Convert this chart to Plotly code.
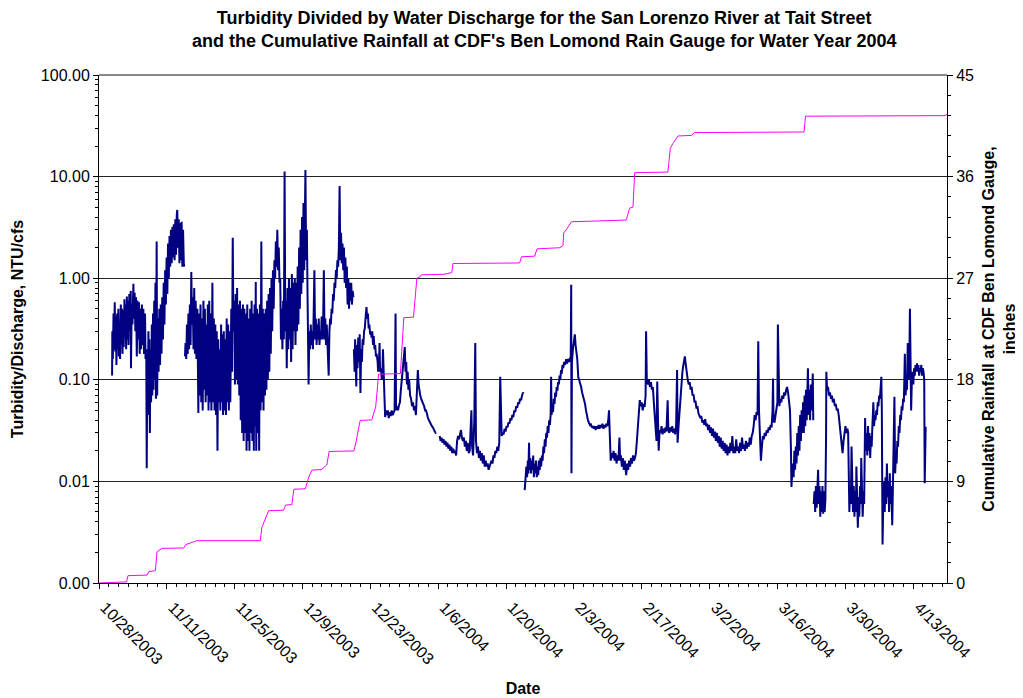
import pandas as pd
import plotly.graph_objects as go

START = pd.Timestamp("2003-10-28")

# Cumulative rainfall, CDF Ben Lomond gauge (days since 10/28/2003, inches)
rain_day = [0.0, 4.07, 5.7, 5.98, 9.9, 10.26, 11.64, 11.97, 13.0, 17.48, 17.9, 20.2,
            33.3, 33.6, 35.0, 38.1, 38.5, 39.8, 40.2, 42.6, 43.3, 43.95, 45.9, 47.0,
            47.5, 52.6, 53.0, 53.9, 56.3, 57.1, 57.7, 62.2, 62.9, 64.9, 65.6, 66.2,
            66.5, 71.3, 72.8, 73.05, 86.8, 87.2, 89.9, 90.4, 95.1, 95.75, 95.9, 96.45,
            97.5, 108.8, 109.5, 110.2, 110.55, 117.4, 117.9, 118.45, 119.5, 122.25,
            122.9, 145.5, 145.8, 174.6, 175.0]
rain_in = [0.0, 0.05, 0.1, 0.65, 0.7, 1.0, 1.1, 2.77, 3.07, 3.1, 3.4, 3.75,
           3.75, 4.9, 6.4, 6.45, 6.9, 6.95, 8.3, 8.35, 9.4, 10.0, 10.05, 10.45,
           11.65, 11.7, 12.4, 14.4, 14.45, 15.6, 18.5, 18.55, 23.5, 23.55, 27.0, 27.1,
           27.3, 27.35, 27.5, 28.3, 28.35, 28.9, 28.95, 29.6, 29.7, 29.9, 31.0, 31.3,
           32.0, 32.15, 33.2, 33.3, 36.35, 36.4, 38.5, 38.95, 39.6, 39.65,
           39.9, 39.95, 41.35, 41.4, 41.5]

# Turbidity / discharge (NTU/cfs), segments separated by data gaps
turb_segments = [
    [(2.70, 0.11), (2.75, 0.30), (2.85, 0.16), (3.00, 0.45), (3.10, 0.20), (3.25, 0.58),
     (3.35, 0.19), (3.50, 0.42), (3.60, 0.14), (3.75, 0.45), (3.85, 0.20), (4.00, 0.50),
     (4.10, 0.17), (4.25, 0.38), (4.35, 0.16), (4.50, 0.55), (4.60, 0.22), (4.75, 0.50),
     (4.85, 0.18), (5.00, 0.48), (5.10, 0.21), (5.25, 0.62), (5.35, 0.26), (5.50, 0.55),
     (5.60, 0.20), (5.75, 0.66), (5.85, 0.25), (6.00, 0.60), (6.10, 0.22), (6.25, 0.70),
     (6.40, 0.30), (6.55, 0.75), (6.60, 0.13), (6.75, 0.55), (6.90, 0.35), (7.10, 0.88),
     (7.20, 0.40), (7.35, 0.72), (7.50, 0.30), (7.65, 0.65), (7.80, 0.17), (7.95, 0.60),
     (8.10, 0.25), (8.25, 0.58), (8.40, 0.18), (8.55, 0.50), (8.70, 0.20), (8.85, 0.55),
     (9.00, 0.22), (9.15, 0.50), (9.30, 0.18), (9.50, 0.45), (9.60, 0.16), (9.75, 0.20),
     (9.85, 0.0135), (9.95, 0.12), (10.05, 0.05), (10.20, 0.30), (10.30, 0.045),
     (10.40, 0.25), (10.50, 0.03), (10.60, 0.20), (10.75, 0.06), (10.90, 0.35),
     (11.00, 0.07), (11.15, 0.45), (11.25, 0.08), (11.40, 0.60), (11.50, 0.10),
     (11.65, 0.90), (11.75, 0.065), (11.90, 2.3), (12.00, 0.07), (12.15, 0.40),
     (12.30, 0.12), (12.45, 0.50), (12.60, 0.14), (12.75, 0.55), (12.90, 0.18),
     (13.05, 0.65), (13.20, 0.25), (13.35, 0.90), (13.50, 0.35), (13.65, 1.2),
     (13.80, 0.55), (13.95, 1.6), (14.10, 0.70), (14.25, 2.2), (14.40, 1.0), (14.55, 2.6),
     (14.70, 1.3), (14.85, 3.0), (15.00, 1.4), (15.15, 3.2), (15.30, 1.6), (15.45, 3.4),
     (15.60, 1.5), (15.75, 3.8), (15.90, 1.7), (16.05, 4.2), (16.15, 4.7), (16.30, 2.0),
     (16.45, 3.8), (16.60, 1.4), (16.75, 3.5), (16.90, 1.5), (17.05, 3.6), (17.20, 1.3),
     (17.35, 3.0), (17.50, 1.4), (17.60, 1.3)],
    [(17.75, 0.17), (17.85, 0.23), (18.0, 0.16), (18.15, 0.35), (18.3, 0.18), (18.45, 0.45),
     (18.6, 0.2), (18.75, 0.55), (18.9, 0.22), (19.05, 1.15), (19.2, 0.35), (19.35, 0.65),
     (19.5, 0.2), (19.65, 0.8), (19.8, 0.18), (19.95, 0.6), (20.1, 0.16), (20.3, 0.5),
     (20.5, 0.047), (20.65, 0.45), (20.8, 0.07), (20.95, 0.55), (21.1, 0.06), (21.25, 0.4),
     (21.4, 0.05), (21.55, 0.6), (21.7, 0.08), (21.85, 0.5), (22.0, 0.06), (22.15, 0.35),
     (22.3, 0.07), (22.45, 0.55), (22.6, 0.05), (22.75, 0.6), (22.9, 0.06), (23.05, 0.45),
     (23.2, 0.05), (23.4, 0.9), (23.55, 0.06), (23.7, 0.4), (23.85, 0.05), (24.0, 0.35),
     (24.15, 0.045), (24.3, 0.3), (24.45, 0.02), (24.6, 0.25), (24.75, 0.06), (24.9, 0.2),
     (25.05, 0.05), (25.2, 0.35), (25.35, 0.06), (25.5, 0.28), (25.6, 0.045), (25.75, 0.3),
     (25.9, 0.05), (26.05, 0.25), (26.2, 0.045), (26.35, 0.4), (26.5, 0.06), (26.65, 0.35),
     (26.8, 0.05), (26.95, 0.3), (27.1, 0.06), (27.3, 0.5), (27.45, 0.12), (27.6, 2.5),
     (27.75, 0.3), (27.9, 0.6), (28.05, 0.09), (28.2, 0.7), (28.35, 0.1), (28.5, 0.8),
     (28.65, 0.09), (28.8, 0.55), (28.95, 0.07), (29.1, 0.6), (29.25, 0.04), (29.4, 0.5),
     (29.55, 0.03), (29.7, 0.55), (29.85, 0.025), (30.0, 0.5), (30.15, 0.03), (30.3, 0.45),
     (30.45, 0.02), (30.6, 0.55), (30.75, 0.025), (30.9, 0.4), (31.05, 0.02), (31.2, 0.5),
     (31.35, 0.03), (31.5, 0.6), (31.65, 0.025), (31.8, 0.45), (31.95, 0.02), (32.1, 0.55),
     (32.25, 0.035), (32.35, 0.92), (32.45, 0.02), (32.6, 0.5), (32.75, 0.03), (32.9, 0.45),
     (33.05, 0.02), (33.2, 0.55), (33.35, 0.05), (33.5, 2.3), (33.65, 0.06), (33.8, 0.5),
     (33.95, 0.05), (34.1, 0.45), (34.25, 0.07), (34.4, 0.5), (34.55, 0.08), (34.7, 0.6),
     (34.85, 0.1), (35.0, 0.7), (35.15, 0.12), (35.3, 0.8), (35.45, 0.18), (35.6, 1.0),
     (35.75, 0.3), (35.9, 1.2), (36.05, 0.5), (36.2, 1.5), (36.35, 1.0), (36.5, 2.3),
     (36.65, 1.3), (36.8, 3.0), (36.95, 1.2), (37.1, 2.0), (37.25, 0.9), (37.4, 1.0),
     (37.55, 0.25), (37.7, 0.5), (37.85, 0.2), (38.0, 0.6), (38.15, 0.25), (38.3, 11.2),
     (38.45, 0.3), (38.6, 0.6), (38.75, 0.13), (38.9, 0.8), (39.05, 0.2), (39.2, 1.0),
     (39.35, 0.25), (39.5, 0.8), (39.65, 0.15), (39.8, 1.1), (39.95, 0.2), (40.1, 0.9),
     (40.25, 0.3), (40.4, 1.0), (40.55, 0.22), (40.7, 0.9), (40.85, 0.3), (41.0, 1.3),
     (41.15, 0.35), (41.3, 2.0), (41.45, 0.5), (41.6, 3.0), (41.75, 0.7), (41.9, 4.0),
     (42.05, 0.9), (42.2, 5.5), (42.35, 1.2), (42.5, 8.0), (42.6, 11.6), (42.75, 1.5),
     (42.9, 3.0), (43.05, 0.6), (43.25, 0.09), (43.4, 0.3), (43.55, 0.2), (43.7, 0.35),
     (43.85, 0.22), (44.0, 0.3), (44.15, 0.2), (44.3, 0.45), (44.45, 1.2), (44.6, 0.25),
     (44.75, 0.4), (44.9, 0.22), (45.05, 0.35), (45.2, 0.25), (45.35, 0.4), (45.5, 0.22),
     (45.65, 0.3), (45.8, 0.25), (45.95, 0.42), (46.1, 0.25), (46.25, 0.35), (46.4, 1.2),
     (46.55, 0.25), (46.7, 0.4), (46.85, 0.22), (47.0, 0.35), (47.15, 0.2), (47.4, 0.11),
     (47.55, 0.3), (47.7, 0.4), (47.85, 0.35), (48.0, 0.5), (48.15, 0.45), (48.3, 0.7),
     (48.45, 0.6), (48.6, 0.9), (48.75, 0.8), (48.9, 1.2), (49.05, 1.0), (49.2, 1.5),
     (49.35, 1.3), (49.5, 2.0), (49.65, 8.1), (49.8, 1.5), (49.95, 2.8), (50.1, 1.4),
     (50.25, 2.2), (50.4, 1.2), (50.55, 2.0), (50.7, 0.9), (50.85, 1.6), (51.0, 0.8),
     (51.15, 1.3), (51.3, 0.55), (51.45, 1.0), (51.6, 0.5), (51.75, 0.9), (51.9, 0.6),
     (52.05, 0.9), (52.2, 0.55), (52.35, 0.75), (52.5, 0.65)],
    [(52.6, 0.2), (52.75, 0.12), (52.85, 0.25), (53.0, 0.14), (53.1, 0.086), (53.2, 0.22),
     (53.35, 0.13), (53.5, 0.26), (53.65, 0.15), (53.8, 0.28), (53.95, 0.074), (54.1, 0.2),
     (54.25, 0.15), (54.4, 0.25), (54.55, 0.22), (54.7, 0.3), (54.85, 0.32), (55.0, 0.4),
     (55.2, 0.52), (55.35, 0.4), (55.5, 0.45), (55.65, 0.32), (55.8, 0.35), (55.95, 0.28),
     (56.1, 0.3), (56.25, 0.26), (56.4, 0.3), (56.55, 0.22), (56.7, 0.27), (56.85, 0.2),
     (57.0, 0.22), (57.15, 0.17), (57.3, 0.18), (57.5, 0.15), (57.6, 0.12), (57.8, 0.16),
     (57.9, 0.23), (58.0, 0.12), (58.2, 0.13), (58.35, 0.1), (58.5, 0.12), (58.6, 0.2),
     (58.75, 0.09), (58.9, 0.07), (59.05, 0.043), (59.2, 0.05), (59.4, 0.045), (59.6, 0.05),
     (59.8, 0.042), (60.0, 0.048), (60.2, 0.044), (60.4, 0.05), (60.6, 0.045), (60.8, 0.048),
     (61.0, 0.05), (61.2, 0.45), (61.3, 0.05), (61.5, 0.055), (61.7, 0.05), (61.9, 0.056),
     (62.1, 0.06), (62.3, 0.08), (62.5, 0.1), (62.7, 0.13), (62.9, 0.17), (63.1, 0.21),
     (63.25, 0.12), (63.4, 0.15), (63.55, 0.09), (63.7, 0.12), (63.85, 0.08), (64.0, 0.1),
     (64.2, 0.07), (64.4, 0.065), (64.6, 0.055), (64.8, 0.06), (65.0, 0.05), (65.2, 0.055),
     (65.4, 0.045), (65.6, 0.07), (65.8, 0.125), (65.95, 0.09), (66.1, 0.075), (66.3, 0.07),
     (66.5, 0.065), (66.7, 0.06), (66.9, 0.058), (67.1, 0.055), (67.3, 0.05), (67.5, 0.05),
     (67.7, 0.045), (67.9, 0.042), (68.1, 0.04), (68.3, 0.038), (68.5, 0.036), (68.7, 0.035),
     (68.9, 0.034), (69.1, 0.032), (69.3, 0.031), (69.5, 0.03), (69.6, 0.03)],
    [(70.3, 0.028), (70.5, 0.025), (70.7, 0.027), (70.9, 0.024), (71.1, 0.026), (71.3, 0.023),
     (71.5, 0.025), (71.7, 0.022), (71.9, 0.024), (72.1, 0.021), (72.3, 0.023), (72.5, 0.02),
     (72.7, 0.022), (72.9, 0.019), (73.1, 0.021), (73.3, 0.019), (73.5, 0.02), (73.7, 0.018),
     (73.9, 0.025), (74.1, 0.028), (74.3, 0.026), (74.5, 0.03), (74.7, 0.032), (74.9, 0.027),
     (75.1, 0.025), (75.3, 0.027), (75.5, 0.022), (75.7, 0.025), (75.9, 0.02), (76.1, 0.024),
     (76.3, 0.019), (76.5, 0.02), (76.7, 0.03), (76.85, 0.05), (77.0, 0.022), (77.2, 0.018),
     (77.45, 0.04), (77.65, 0.23), (77.8, 0.025), (78.0, 0.019), (78.2, 0.022), (78.4, 0.017),
     (78.6, 0.02), (78.8, 0.016), (79.0, 0.019), (79.2, 0.015), (79.4, 0.018), (79.6, 0.014),
     (79.8, 0.016), (80.0, 0.014), (80.2, 0.015), (80.4, 0.013), (80.6, 0.014), (80.8, 0.015),
     (81.0, 0.016), (81.2, 0.015), (81.4, 0.018), (81.6, 0.017), (81.8, 0.02), (82.0, 0.019),
     (82.2, 0.022), (82.4, 0.02), (82.6, 0.024), (82.8, 0.107), (82.95, 0.03), (83.1, 0.028),
     (83.3, 0.03), (83.5, 0.029), (83.7, 0.033), (83.9, 0.031), (84.1, 0.035), (84.3, 0.034),
     (84.5, 0.038), (84.7, 0.037), (84.9, 0.042), (85.1, 0.04), (85.3, 0.045), (85.5, 0.043),
     (85.7, 0.05), (85.9, 0.048), (86.1, 0.055), (86.3, 0.053), (86.5, 0.06), (86.7, 0.058),
     (86.9, 0.065), (87.1, 0.063), (87.3, 0.07), (87.5, 0.075), (87.6, 0.073)],
    [(87.85, 0.0082), (87.95, 0.0096), (88.05, 0.009), (88.2, 0.014), (88.35, 0.011),
     (88.5, 0.016), (88.6, 0.012), (88.75, 0.024), (88.85, 0.013), (89.0, 0.017),
     (89.15, 0.012), (89.3, 0.016), (89.45, 0.013), (89.6, 0.018), (89.75, 0.011),
     (89.9, 0.015), (90.05, 0.012), (90.2, 0.016), (90.35, 0.011), (90.5, 0.014),
     (90.65, 0.0115), (90.8, 0.016), (90.95, 0.013), (91.1, 0.017), (91.25, 0.014),
     (91.4, 0.018), (91.55, 0.016), (91.7, 0.022), (91.85, 0.019), (92.0, 0.026),
     (92.15, 0.022), (92.3, 0.03), (92.45, 0.027), (92.6, 0.035), (92.75, 0.03), (92.9, 0.04),
     (93.05, 0.036), (93.2, 0.045), (93.3, 0.107), (93.4, 0.045), (93.55, 0.055),
     (93.7, 0.048), (93.85, 0.065), (94.0, 0.058), (94.15, 0.075), (94.3, 0.068),
     (94.45, 0.085), (94.6, 0.078), (94.75, 0.095), (94.9, 0.09), (95.05, 0.11), (95.2, 0.1),
     (95.35, 0.125), (95.5, 0.115), (95.65, 0.14), (95.8, 0.13), (96.0, 0.15), (96.2, 0.14),
     (96.4, 0.16), (96.6, 0.145), (96.8, 0.16), (97.0, 0.15), (97.2, 0.165), (97.35, 0.155),
     (97.45, 0.86), (97.5, 0.012), (97.6, 0.15), (97.8, 0.2), (98.0, 0.23), (98.2, 0.28),
     (98.35, 0.22), (98.5, 0.19), (98.7, 0.16), (98.9, 0.107), (99.1, 0.1), (99.3, 0.09),
     (99.5, 0.085), (99.7, 0.075), (99.9, 0.07), (100.1, 0.065), (100.3, 0.058), (100.5, 0.05),
     (100.7, 0.043), (100.9, 0.04), (101.1, 0.038), (101.3, 0.036), (101.5, 0.037),
     (101.7, 0.034), (101.9, 0.035), (102.1, 0.033), (102.3, 0.035), (102.5, 0.032),
     (102.7, 0.035), (102.9, 0.033), (103.1, 0.036), (103.3, 0.033), (103.5, 0.036),
     (103.7, 0.034), (103.9, 0.037), (104.1, 0.033), (104.3, 0.036), (104.5, 0.034),
     (104.7, 0.037), (104.9, 0.035), (105.1, 0.04), (105.25, 0.05), (105.4, 0.03),
     (105.6, 0.016), (105.8, 0.019), (106.0, 0.017), (106.2, 0.02), (106.4, 0.016),
     (106.6, 0.019), (106.8, 0.015), (107.0, 0.018), (107.2, 0.016), (107.4, 0.027),
     (107.55, 0.016), (107.7, 0.018), (107.9, 0.014), (108.1, 0.017), (108.3, 0.013),
     (108.5, 0.016), (108.8, 0.0115), (109.0, 0.015), (109.2, 0.013), (109.4, 0.016),
     (109.6, 0.014), (109.8, 0.017), (110.0, 0.015), (110.2, 0.018), (110.4, 0.016),
     (110.6, 0.017), (110.8, 0.019), (111.0, 0.025), (111.2, 0.035), (111.4, 0.05),
     (111.6, 0.063), (111.8, 0.055), (112.0, 0.06), (112.2, 0.05), (112.4, 0.058),
     (112.6, 0.054), (112.8, 0.07), (112.9, 0.3), (113.05, 0.1), (113.3, 0.09), (113.5, 0.1),
     (113.7, 0.085), (113.9, 0.095), (114.1, 0.08), (114.3, 0.085), (114.5, 0.06),
     (114.7, 0.045), (114.9, 0.032), (115.05, 0.025), (115.2, 0.096), (115.35, 0.03),
     (115.5, 0.02), (115.7, 0.032), (115.9, 0.03), (116.1, 0.035), (116.3, 0.029),
     (116.5, 0.033), (116.7, 0.03), (116.9, 0.034), (117.1, 0.031), (117.35, 0.063),
     (117.5, 0.032), (117.7, 0.03), (117.9, 0.034), (118.1, 0.031), (118.3, 0.035),
     (118.5, 0.03), (118.7, 0.033), (118.9, 0.029), (119.1, 0.035), (119.3, 0.125),
     (119.4, 0.024), (119.6, 0.035), (119.8, 0.05), (120.0, 0.07), (120.2, 0.09),
     (120.4, 0.12), (120.6, 0.14), (120.8, 0.165), (120.9, 0.17), (121.1, 0.14), (121.3, 0.11),
     (121.5, 0.1), (121.7, 0.09), (121.9, 0.095), (122.1, 0.08), (122.3, 0.085), (122.5, 0.07),
     (122.7, 0.072), (122.9, 0.06), (123.1, 0.062), (123.3, 0.052), (123.5, 0.055),
     (123.7, 0.047), (123.9, 0.045), (124.1, 0.042), (124.3, 0.044), (124.5, 0.038),
     (124.7, 0.04), (124.9, 0.036), (125.1, 0.041), (125.3, 0.035), (125.5, 0.037),
     (125.7, 0.032), (125.9, 0.036), (126.1, 0.03), (126.3, 0.034), (126.5, 0.028),
     (126.7, 0.033), (126.9, 0.027), (127.1, 0.031), (127.3, 0.025), (127.5, 0.03),
     (127.7, 0.024), (127.9, 0.028), (128.1, 0.022), (128.3, 0.027), (128.5, 0.021),
     (128.7, 0.025), (128.9, 0.02), (129.1, 0.024), (129.3, 0.019), (129.5, 0.023),
     (129.7, 0.018), (129.9, 0.022), (130.1, 0.019), (130.3, 0.024), (130.5, 0.02),
     (130.7, 0.028), (130.9, 0.019), (131.1, 0.022), (131.3, 0.019), (131.5, 0.026),
     (131.7, 0.02), (131.9, 0.022), (132.1, 0.019), (132.3, 0.024), (132.5, 0.02),
     (132.7, 0.027), (132.9, 0.021), (133.1, 0.023), (133.3, 0.02), (133.5, 0.025),
     (133.7, 0.021), (133.9, 0.024), (134.1, 0.022), (134.3, 0.027), (134.5, 0.023),
     (134.7, 0.028), (134.9, 0.03), (135.1, 0.035), (135.3, 0.045), (135.5, 0.04),
     (135.7, 0.048), (135.9, 0.045), (136.05, 0.24), (136.2, 0.05), (136.4, 0.03),
     (136.6, 0.016), (136.8, 0.022), (137.0, 0.028), (137.2, 0.026), (137.4, 0.03),
     (137.6, 0.028), (137.8, 0.032), (138.0, 0.03), (138.2, 0.034), (138.4, 0.032),
     (138.6, 0.036), (138.8, 0.034), (139.0, 0.05), (139.1, 0.103), (139.2, 0.04),
     (139.4, 0.038), (139.6, 0.045), (139.8, 0.05), (140.0, 0.06), (140.1, 0.35),
     (140.25, 0.07), (140.4, 0.055), (140.6, 0.065), (140.8, 0.06), (141.0, 0.07),
     (141.2, 0.065), (141.4, 0.075), (141.6, 0.07), (141.8, 0.08), (142.0, 0.085),
     (142.2, 0.075), (142.4, 0.06), (142.6, 0.05), (142.8, 0.02), (142.9, 0.0088),
     (143.05, 0.012), (143.2, 0.015), (143.35, 0.011), (143.5, 0.02), (143.65, 0.013),
     (143.8, 0.022), (143.95, 0.015), (144.1, 0.03), (144.25, 0.018), (144.4, 0.035),
     (144.55, 0.02), (144.7, 0.045), (144.85, 0.025), (145.0, 0.05), (145.15, 0.03),
     (145.3, 0.06), (145.45, 0.03), (145.6, 0.07), (145.75, 0.035), (145.9, 0.08),
     (146.05, 0.04), (146.3, 0.13), (146.45, 0.045), (146.6, 0.08), (146.75, 0.04),
     (146.9, 0.09), (147.05, 0.05), (147.3, 0.115), (147.4, 0.04)],
    [(147.5, 0.006), (147.65, 0.008), (147.8, 0.005), (147.95, 0.009), (148.1, 0.0055),
     (148.25, 0.01), (148.4, 0.013), (148.55, 0.006), (148.7, 0.009), (148.85, 0.0045),
     (149.0, 0.008), (149.15, 0.005), (149.3, 0.009), (149.45, 0.0048), (149.6, 0.008),
     (149.75, 0.005), (149.9, 0.0065), (150.05, 0.03), (150.1, 0.12), (150.25, 0.08),
     (150.45, 0.085), (150.65, 0.07), (150.85, 0.075), (151.05, 0.065), (151.25, 0.07),
     (151.45, 0.06), (151.65, 0.065), (151.85, 0.055), (152.05, 0.058), (152.25, 0.05),
     (152.45, 0.052), (152.65, 0.045), (152.85, 0.035), (153.05, 0.028), (153.25, 0.022),
     (153.45, 0.019), (153.65, 0.025), (153.85, 0.03), (154.05, 0.035), (154.25, 0.03),
     (154.45, 0.033), (154.6, 0.03), (154.7, 0.008), (154.85, 0.005), (155.0, 0.009),
     (155.15, 0.006), (155.3, 0.022), (155.45, 0.007), (155.6, 0.005), (155.75, 0.009),
     (155.9, 0.0045), (156.05, 0.008), (156.2, 0.005), (156.3, 0.014), (156.45, 0.006),
     (156.6, 0.0035), (156.75, 0.007), (156.9, 0.0045), (157.05, 0.009), (157.2, 0.006),
     (157.3, 0.017), (157.45, 0.007), (157.6, 0.0045), (157.75, 0.008), (157.9, 0.006),
     (158.1, 0.042), (158.25, 0.02), (158.4, 0.03), (158.55, 0.018), (158.7, 0.035),
     (158.85, 0.02), (159.0, 0.03), (159.15, 0.017), (159.3, 0.028), (159.45, 0.022),
     (159.6, 0.035), (159.8, 0.06), (159.95, 0.035), (160.1, 0.045), (160.25, 0.04),
     (160.4, 0.05), (160.55, 0.045), (160.7, 0.06), (160.85, 0.055), (161.0, 0.07),
     (161.15, 0.065), (161.3, 0.08), (161.45, 0.107), (161.55, 0.05), (161.7, 0.0024),
     (161.85, 0.006), (162.0, 0.01), (162.15, 0.005), (162.3, 0.011), (162.45, 0.006),
     (162.6, 0.015), (162.75, 0.007), (162.9, 0.01), (163.05, 0.005), (163.2, 0.012),
     (163.35, 0.006), (163.5, 0.009), (163.7, 0.0037), (163.85, 0.01), (164.0, 0.015),
     (164.15, 0.068), (164.3, 0.012), (164.45, 0.018), (164.6, 0.015), (164.75, 0.025),
     (164.9, 0.022), (165.05, 0.035), (165.2, 0.03), (165.35, 0.045), (165.5, 0.04),
     (165.65, 0.055), (165.8, 0.05), (165.95, 0.065), (166.1, 0.06), (166.3, 0.18),
     (166.45, 0.07), (166.6, 0.09), (166.75, 0.08), (166.9, 0.23), (167.05, 0.1),
     (167.2, 0.12), (167.35, 0.5), (167.5, 0.15), (167.6, 0.05), (167.75, 0.1), (167.9, 0.12),
     (168.05, 0.09), (168.2, 0.13), (168.35, 0.11), (168.5, 0.14), (168.65, 0.12),
     (168.8, 0.145), (168.95, 0.12), (169.1, 0.14), (169.25, 0.11), (169.4, 0.13),
     (169.55, 0.12), (169.7, 0.14), (169.85, 0.11), (170.0, 0.13), (170.15, 0.12),
     (170.3, 0.1), (170.4, 0.0096), (170.5, 0.02), (170.6, 0.0345)],
]

# Axis tick labels
left_tickvals = [0.001, 0.01, 0.1, 1, 10, 100]
left_ticktext = ["0.00", "0.01", "0.10", "1.00", "10.00", "100.00"]
right_tickvals = [0, 9, 18, 27, 36, 45]

turb_x, turb_y = [], []
for seg in turb_segments:
    for d, v in seg:
        turb_x.append(START + pd.Timedelta(days=d))
        turb_y.append(v)
    turb_x.append(None)
    turb_y.append(None)

rain_x = [START + pd.Timedelta(days=d) for d in rain_day]

FONT = "Liberation Sans, Arial, sans-serif"

fig = go.Figure()
fig.add_trace(go.Scatter(x=turb_x, y=turb_y, mode="lines",
                         line=dict(color="#000080", width=2), connectgaps=False,
                         name="Turbidity/Discharge", yaxis="y"))
fig.add_trace(go.Scatter(x=rain_x, y=rain_in, mode="lines",
                         line=dict(color="#FF00FF", width=1),
                         name="Cumulative Rainfall", yaxis="y2"))

minor_log = [m * 10 ** e for e in range(-3, 2) for m in range(2, 10)]

# page body adds an 8px offset; figure is sized to sit inside the 1023x698 window
fig.update_layout(
    width=1015, height=690,
    margin=dict(l=91, r=76, t=67, b=115, autoexpand=False),
    paper_bgcolor="white", plot_bgcolor="white",
    showlegend=False,
    font=dict(family=FONT, size=16, color="black"),
    xaxis=dict(
        type="date", automargin=False,
        range=[START, START + pd.Timedelta(days=175)],
        tick0=START, dtick=14 * 86400000,
        tickformat="%-m/%-d/%Y", tickangle=45,
        ticks="outside", ticklen=5, tickcolor="black",
        ticklabelstandoff=3, ticklabelshift=6,
        minor=dict(dtick=2 * 86400000, ticks="outside", ticklen=3, tickcolor="black"),
        showline=True, linecolor="black", linewidth=1,
        showgrid=False, zeroline=False,
        tickfont=dict(size=16),
        title=dict(text="Date", font=dict(size=16, weight="bold"), standoff=16),
    ),
    yaxis=dict(
        type="log", range=[-3, 2], automargin=False,
        tickmode="array", tickvals=left_tickvals, ticktext=left_ticktext,
        ticks="outside", ticklen=5, tickcolor="black",
        minor=dict(tickmode="array", tickvals=minor_log, ticks="outside", ticklen=3,
                   tickcolor="black", showgrid=False),
        showline=True, linecolor="black", linewidth=1,
        showgrid=True, gridcolor="#222222", gridwidth=1,
        zeroline=False, tickfont=dict(size=16),
        title=dict(text="Turbidity/Discharge, NTU/cfs", font=dict(size=16, weight="bold"),
                   standoff=13),
    ),
    yaxis2=dict(
        overlaying="y", side="right", range=[0, 45], automargin=False,
        tickmode="array", tickvals=right_tickvals,
        ticks="outside", ticklen=5, tickcolor="black",
        minor=dict(dtick=1.8, ticks="outside", ticklen=3, tickcolor="black", showgrid=False),
        showline=True, linecolor="black", linewidth=1,
        showgrid=False, zeroline=False, tickfont=dict(size=16),
        title=dict(text="Cumulative Rainfall at CDF Ben Lomond Gauge,<br>inches",
                   font=dict(size=16, weight="bold"), standoff=9),
    ),
)

fig.add_annotation(
    text="Turbidity Divided by Water Discharge for the San Lorenzo River at Tait Street"
         "<br>and the Cumulative Rainfall at CDF's Ben Lomond Rain Gauge for Water Year 2004",
    xref="paper", yref="paper", x=0.525, y=1.0886, xanchor="center", yanchor="middle",
    showarrow=False, font=dict(family=FONT, size=18, color="black", weight="bold"),
)

fig.add_shape(type="line", xref="paper", yref="paper", x0=0, x1=1, y0=1, y1=1,
              line=dict(color="#888888", width=2))

fig.write_html("out.html")
